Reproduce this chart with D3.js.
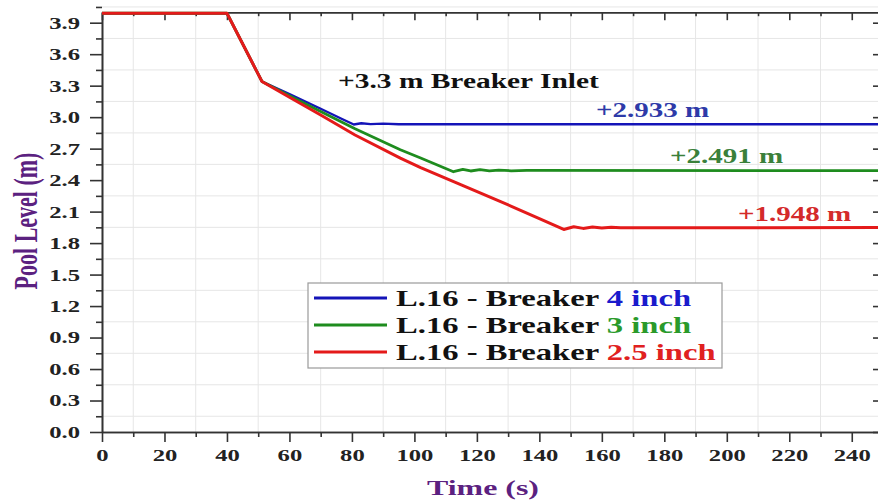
<!DOCTYPE html>
<html>
<head>
<meta charset="utf-8">
<script src="https://cdn.jsdelivr.net/npm/d3@7"></script>
<style>
  body { margin: 0; background: #fff; }
  svg text { font-family: "Liberation Serif", "Times New Roman", serif; font-weight: bold; }
</style>
</head>
<body>
<div id="chart"></div>
<script>
// pool level data
var blueT  = [0, 40, 51.2, 60, 70, 77, 80.6, 83, 86, 90, 95, 100, 250];
var blueV  = [3.99, 3.99, 3.34, 3.22, 3.08, 2.98, 2.93, 2.942, 2.934, 2.938, 2.932, 2.933, 2.933];
var greenT = [0, 40, 51.2, 60, 70, 81, 95.5, 102, 112.5, 115.5, 118, 121, 124, 127, 131, 136, 250];
var greenV = [3.99, 3.99, 3.34, 3.205, 3.055, 2.89, 2.69, 2.61, 2.48, 2.503, 2.487, 2.499, 2.488, 2.496, 2.489, 2.492, 2.491];
var redT   = [0, 40, 51.2, 60, 70, 81, 95.5, 102, 115, 127.6, 140, 147.8, 151, 154, 157, 160, 163, 166, 250];
var redV   = [3.99, 3.99, 3.34, 3.19, 3.02, 2.83, 2.61, 2.52, 2.355, 2.195, 2.034, 1.93, 1.956, 1.94, 1.953, 1.944, 1.951, 1.946, 1.948];

var xTicks = d3.range(0, 241, 20);
var xMinor = d3.range(10, 251, 20);
var yTicks = d3.range(0, 40, 3).map(function(d){ return d / 10; });
var yMinor = d3.range(0, 40, 3).map(function(d){ return (d + 1.5) / 10; });

var seriesNames  = ['L.16 - Breaker ', 'L.16 - Breaker ', 'L.16 - Breaker '];
var seriesSizes  = ['4 inch', '3 inch', '2.5 inch'];
var endLabels    = ['+2.933 m', '+2.491 m', '+1.948 m'];
var inletLabel   = '+3.3 m Breaker Inlet';

var W = 878, H = 500;
var SX = 1.45; // the figure's text is stretched sideways
var svg = d3.select('#chart').append('svg')
    .attr('width', W)
    .attr('height', H);

var x = d3.scaleLinear().domain([0, 250]).range([102, 883]);
var y = d3.scaleLinear().domain([0, 4]).range([432, 12.2]);

// grid at minor positions
var grid = svg.append('g');
grid.selectAll('.gx').data(xMinor).enter().append('line')
    .attr('x1', function(d){ return x(d); }).attr('x2', function(d){ return x(d); })
    .attr('y1', y(4)).attr('y2', y(0))
    .style('stroke', '#e6e6e6').style('stroke-width', 1);
grid.selectAll('.gy').data(yMinor).enter().append('line')
    .attr('y1', function(d){ return y(d); }).attr('y2', function(d){ return y(d); })
    .attr('x1', x(0)).attr('x2', x(250))
    .style('stroke', '#e6e6e6').style('stroke-width', 1);

function styleAxis(g) {
    g.selectAll('.domain').style('stroke', '#333').style('stroke-width', 1.6);
    g.selectAll('line').style('stroke', '#333').style('stroke-width', 1.6);
}

// minor ticks
var gxm = svg.append('g').attr('transform', 'translate(0,' + y(0) + ')')
    .call(d3.axisBottom(x).tickValues(xMinor).tickSize(5).tickSizeOuter(0).tickFormat(''));
var gym = svg.append('g').attr('transform', 'translate(' + x(0) + ',0)')
    .call(d3.axisLeft(y).tickValues(yMinor).tickSize(6).tickSizeOuter(0).tickFormat(''));
var gtm = svg.append('g').attr('transform', 'translate(0,' + y(4) + ')')
    .call(d3.axisTop(x).tickValues(xMinor).tickSize(-4).tickSizeOuter(0).tickFormat(''));
var grm = svg.append('g').attr('transform', 'translate(' + x(250) + ',0)')
    .call(d3.axisRight(y).tickValues(yMinor).tickSize(-5).tickSizeOuter(0).tickFormat(''));
[gxm, gym, gtm, grm].forEach(styleAxis);

// major ticks
var gx = svg.append('g').attr('transform', 'translate(0,' + y(0) + ')')
    .call(d3.axisBottom(x).tickValues(xTicks).tickSize(10).tickSizeOuter(0).tickPadding(7));
var gy = svg.append('g').attr('transform', 'translate(' + x(0) + ',0)')
    .call(d3.axisLeft(y).tickValues(yTicks).tickSize(12).tickSizeOuter(0).tickFormat(d3.format('.1f')));
var gt = svg.append('g').attr('transform', 'translate(0,' + y(4) + ')')
    .call(d3.axisTop(x).tickValues(xTicks).tickSize(-8).tickSizeOuter(0).tickFormat(''));
var gr = svg.append('g').attr('transform', 'translate(' + x(250) + ',0)')
    .call(d3.axisRight(y).tickValues(yTicks).tickSize(-10).tickSizeOuter(0).tickFormat(''));
[gx, gy, gt, gr].forEach(styleAxis);

gx.selectAll('text')
    .style('font-size', '17px').style('fill', '#222')
    .attr('transform', 'scale(' + SX + ',1)');
gy.selectAll('text')
    .style('font-size', '17px').style('fill', '#222')
    .attr('x', -22 / SX)
    .attr('transform', 'scale(' + SX + ',1)');

// lines
var line = d3.line()
    .x(function(d){ return x(d[0]); })
    .y(function(d){ return y(d[1]); });

var series = [
    {t: blueT,  v: blueV,  color: '#1414b8', w: 2.4},
    {t: greenT, v: greenV, color: '#1e8c1e', w: 2.8},
    {t: redT,   v: redV,   color: '#e41a1a', w: 3.0}
];
series.forEach(function(s){
    svg.append('path')
        .attr('d', line(d3.zip(s.t, s.v)))
        .style('fill', 'none')
        .style('stroke', s.color)
        .style('stroke-width', s.w)
        .style('stroke-linejoin', 'round');
});

// annotations
svg.append('text')
    .attr('transform', 'translate(338,88) scale(' + SX + ',1)')
    .style('font-size', '20.3px').style('fill', '#111')
    .text(inletLabel);

var endPos = [[596, 117, '#2e3aa8'], [670, 163, '#3a803a'], [738, 221, '#d42a2a']];
endLabels.forEach(function(lbl, i){
    svg.append('text')
        .attr('transform', 'translate(' + endPos[i][0] + ',' + endPos[i][1] + ') scale(' + SX + ',1)')
        .style('font-size', '20px').style('fill', endPos[i][2])
        .text(lbl);
});

// legend
var legend = svg.append('g');
legend.append('rect')
    .attr('x', 308).attr('y', 283).attr('width', 414).attr('height', 85)
    .style('fill', '#fff').style('stroke', '#9a9a9a').style('stroke-width', 1.2);
var legColors = ['#1a1acc', '#2a9a2a', '#e02020'];
seriesSizes.forEach(function(sz, i){
    var ly = 298 + i * 27;
    legend.append('line')
        .attr('x1', 314).attr('x2', 387).attr('y1', ly).attr('y2', ly)
        .style('stroke', series[i].color).style('stroke-width', 3);
    var t = legend.append('text')
        .attr('transform', 'translate(396,' + (ly + 7.5) + ') scale(' + SX + ',1)')
        .style('font-size', '22.5px');
    t.append('tspan').style('fill', '#111').text(seriesNames[i]);
    t.append('tspan').style('fill', legColors[i]).text(sz);
});

// axis titles
svg.append('text')
    .attr('transform', 'translate(483,495) scale(' + SX + ',1)')
    .attr('text-anchor', 'middle')
    .style('font-size', '22px').style('fill', '#5b2180')
    .text('Time (s)');
svg.append('text')
    .attr('transform', 'translate(37,221) rotate(-90) scale(1,1.5)')
    .attr('text-anchor', 'middle')
    .style('font-size', '22px').style('fill', '#5b2180')
    .text('Pool Level (m)');
</script>
</body>
</html>
